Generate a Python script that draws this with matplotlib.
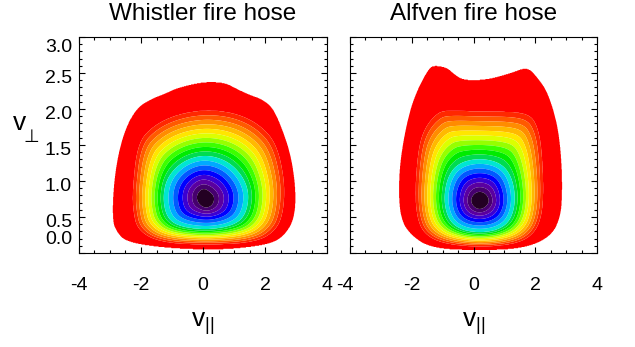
import numpy as np
import matplotlib
matplotlib.use("Agg")
import matplotlib.pyplot as plt
from matplotlib.colors import to_hex
from matplotlib.ticker import FormatStrFormatter
from matplotlib.transforms import ScaledTranslation

plt.rcParams['font.family'] = ['Liberation Sans', 'DejaVu Sans']
plt.rcParams['mathtext.fontset'] = 'custom'
plt.rcParams['mathtext.rm'] = 'Liberation Sans'
plt.rcParams['axes.unicode_minus'] = False

# contour boundaries, (v_par, v_perp) points
# levels: edge of data = 0, inner edge of red band = 1, green/cyan = 11, black core = 18, peak = 19
LEVEL_KNOTS = [0, 1, 11, 18, 19]

wh_center = (0.07, 0.76)
wh_edge_vpar = [-2.90, -2.76, -2.49, -2.11, -1.63, -1.20, -0.87, -0.12, 0.35, 0.75, 1.10, 1.50, 1.90,
                2.26, 2.58, 2.85, 3.00, 2.96, 2.69, 2.26, 1.20, 0.10, -1.30, -2.49, -2.80, -2.92]
wh_edge_vperp = [0.87, 1.34, 1.75, 2.03, 2.15, 2.22, 2.29, 2.37, 2.38, 2.36, 2.28, 2.20, 2.14,
                 2.02, 1.70, 1.34, 0.87, 0.50, 0.27, 0.13, 0.06, 0.04, 0.07, 0.15, 0.30, 0.45]
wh_c1_vpar = [-2.27, -2.25, -2.11, -1.41, 0.10, 1.72, 2.37, 2.60, 2.63, 2.37, 1.83, 1.07, 0.10, -0.87, -1.62, -2.11]
wh_c1_vperp = [0.87, 0.59, 0.32, 0.15, 0.11, 0.15, 0.32, 0.59, 1.01, 1.52, 1.78, 1.94, 1.99, 1.92, 1.76, 1.52]
wh_mid_vpar = [-1.30, -1.15, -0.65, 0.07, 0.80, 1.30, 1.50, 1.35, 0.90, 0.07, -0.80, -1.18]
wh_mid_vperp = [0.78, 1.06, 1.28, 1.37, 1.28, 1.06, 0.80, 0.50, 0.37, 0.32, 0.37, 0.50]
wh_core_vpar = [-0.22, -0.15, 0.02, 0.20, 0.38, 0.32, 0.12, -0.10]
wh_core_vperp = [0.76, 0.85, 0.90, 0.86, 0.78, 0.67, 0.62, 0.66]

af_center = (0.20, 0.73)
af_edge_vpar = [-2.43, -2.37, -2.10, -1.78, -1.45, -1.29, -0.86, -0.64, -0.31, 0.44, 1.20, 1.75, 2.07,
                2.40, 2.72, 2.85, 2.88, 2.83, 2.50, 1.64, 0.23, -1.40, -2.10, -2.37]
af_edge_vperp = [0.87, 1.33, 1.94, 2.31, 2.56, 2.61, 2.58, 2.49, 2.40, 2.41, 2.50, 2.59, 2.44,
                 2.24, 1.80, 1.33, 0.87, 0.50, 0.22, 0.06, 0.03, 0.06, 0.27, 0.50]
af_c1_vpar = [-1.89, -1.78, -1.56, -1.18, -0.86, 0.23, 1.31, 1.85, 2.07, 2.20, 2.27, 2.20, 1.96, 1.42,
              0.23, -1.00, -1.61, -1.83]
af_c1_vperp = [0.87, 1.47, 1.75, 1.94, 1.98, 1.96, 1.96, 1.91, 1.75, 1.47, 0.87, 0.50, 0.27, 0.13,
               0.08, 0.13, 0.27, 0.50]
af_mid_vpar = [-0.97, -0.85, -0.50, 0.20, 0.90, 1.25, 1.37, 1.20, 0.80, 0.20, -0.40, -0.80]
af_mid_vperp = [0.73, 1.05, 1.25, 1.32, 1.25, 1.05, 0.73, 0.45, 0.32, 0.28, 0.32, 0.45]
af_core_vpar = [-0.10, 0.00, 0.20, 0.42, 0.52, 0.40, 0.20, 0.00]
af_core_vperp = [0.73, 0.82, 0.86, 0.82, 0.72, 0.64, 0.60, 0.64]

# band colours, outermost (red) to centre (black)
band_colors = [(255, 0, 0), (255, 40, 0), (255, 90, 0), (255, 140, 0), (255, 185, 0), (255, 230, 0),
               (220, 255, 0), (150, 255, 0), (60, 255, 0), (0, 235, 0), (0, 220, 80), (0, 230, 210),
               (0, 170, 255), (0, 90, 255), (0, 0, 255), (60, 0, 210), (90, 0, 160), (70, 0, 110),
               (35, 0, 35)]

titles = ["Whistler fire hose", "Alfven fire hose"]

SX = 2.33  # v_par units per v_perp unit on screen


def radius_on(theta, vpar, vperp, cx, cy):
    # closed outline in screen-like units, corners rounded (Chaikin), radius read per angle
    u = (np.asarray(vpar) - cx) / SX
    w = np.asarray(vperp) - cy
    for _ in range(4):
        un, wn = np.roll(u, -1), np.roll(w, -1)
        u = np.ravel(np.column_stack([0.75 * u + 0.25 * un, 0.25 * u + 0.75 * un]))
        w = np.ravel(np.column_stack([0.75 * w + 0.25 * wn, 0.25 * w + 0.75 * wn]))
    u, w = np.append(u, u[0]), np.append(w, w[0])
    s = np.concatenate([[0], np.cumsum(np.hypot(np.diff(u), np.diff(w)))])
    t = np.linspace(0, s[-1], 1500)
    u, w = np.interp(t, s, u), np.interp(t, s, w)
    th = np.arctan2(w, u)
    r = np.hypot(u, w)
    order = np.argsort(th)
    return np.interp(theta, th[order], r[order], period=2 * np.pi)


def level_field(vx, vy, center, bounds):
    cx, cy = center
    u = (vx - cx) / SX
    w = vy - cy
    th = np.arctan2(w, u)
    r = np.hypot(u, w)
    radii = [radius_on(th, bx, by, cx, cy) for bx, by in bounds] + [np.zeros_like(r)]
    f = np.full(r.shape, np.nan)
    for i in range(len(radii) - 1):
        ro, ri = radii[i], radii[i + 1]
        m = (r < ro) & (r >= ri)
        f[m] = LEVEL_KNOTS[i] + (LEVEL_KNOTS[i + 1] - LEVEL_KNOTS[i]) * (ro[m] - r[m]) / (ro[m] - ri[m])
    return f


vx, vy = np.meshgrid(np.linspace(-4, 4, 801), np.linspace(0, 3, 361))
fields = [
    level_field(vx, vy, wh_center, [(wh_edge_vpar, wh_edge_vperp), (wh_c1_vpar, wh_c1_vperp),
                                    (wh_mid_vpar, wh_mid_vperp), (wh_core_vpar, wh_core_vperp)]),
    level_field(vx, vy, af_center, [(af_edge_vpar, af_edge_vperp), (af_c1_vpar, af_c1_vperp),
                                    (af_mid_vpar, af_mid_vperp), (af_core_vpar, af_core_vperp)]),
]
colors = [to_hex(np.array(c) / 255) for c in band_colors]

fig = plt.figure(figsize=(6.35, 3.47), dpi=100)
axes = [fig.add_axes([0.1244, 0.2709, 0.3906, 0.6225]),
        fig.add_axes([0.5512, 0.2709, 0.389, 0.6225])]

for k, ax in enumerate(axes):
    ax.contourf(vx, vy, fields[k], levels=np.arange(0, 20), colors=colors, antialiased=True)
    ax.set_xlim(-4, 4)
    ax.set_ylim(0, 3)
    ax.set_xticks([-4, -2, 0, 2, 4])
    ax.set_xticks(np.arange(-4, 4.01, 0.5), minor=True)
    ax.set_yticks(np.arange(0, 3.01, 0.5))
    ax.set_yticks(np.arange(0, 3.01, 0.1), minor=True)
    ax.yaxis.set_major_formatter(FormatStrFormatter('%.1f'))
    ax.tick_params(which='both', direction='in', top=True, right=True, labelsize=14, width=0.8)
    ax.tick_params(which='major', length=4.5)
    ax.tick_params(which='minor', length=2.3)
    ax.tick_params(axis='x', pad=17)
    ax.tick_params(axis='y', pad=5)
    for s in ax.spines.values():
        s.set_linewidth(0.8)
    ax.set_title(titles[k], fontsize=17.5, pad=12)
    ax.set_xlabel(r'$\mathrm{v}_{||}$', fontsize=19, labelpad=12)

axes[1].tick_params(labelleft=False)
axes[0].text(-0.238, 0.60, 'v', transform=axes[0].transAxes, fontsize=19, ha='center', va='center')
axes[0].text(-0.192, 0.535, '\u22a5', transform=axes[0].transAxes, fontsize=13,
             family=['DejaVu Sans'], ha='center', va='center')

# end labels sit inside the axis range, the rest a little under their ticks
label_shift_px = [15, -3.5, -3.5, -3.5, -3.5, -3.5, -9]
for t, dy in zip(axes[0].yaxis.get_major_ticks(), label_shift_px):
    t.label1.set_transform(t.label1.get_transform() + ScaledTranslation(0, dy / 100, fig.dpi_scale_trans))
first = axes[1].xaxis.get_major_ticks()[0].label1
first.set_transform(first.get_transform() + ScaledTranslation(-5 / 100, 0, fig.dpi_scale_trans))

fig.savefig("out.png", dpi=100)
